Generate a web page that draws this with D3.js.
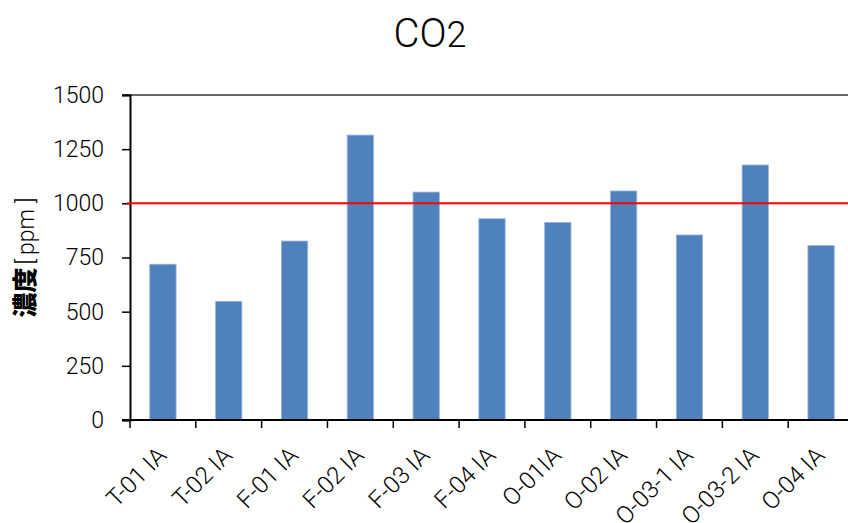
<!DOCTYPE html>
<html>
<head>
<meta charset="utf-8">
<script src="https://cdn.jsdelivr.net/npm/d3@7"></script>
<style>
  html, body { margin: 0; padding: 0; background: #fff; }
  svg { display: block; }
</style>
</head>
<body>
<svg id="chart" width="848" height="523"></svg>
<script>
const categories = ["T-01 IA", "T-02 IA", "F-01 IA", "F-02 IA", "F-03 IA", "F-04 IA", "O-01IA", "O-02 IA", "O-03-1 IA", "O-03-2 IA", "O-04 IA"];
const values = [719, 548, 826, 1315, 1052, 929, 912, 1057, 854, 1177, 805];
const yTicks = [0, 250, 500, 750, 1000, 1250, 1500];
const thresholdValue = [1000];

(function () {
const svg = d3.select("#chart");
const pL = 130, pR = 854, pT = 95, pB = 420;
const numFont = "Roboto, 'Noto Sans', sans-serif";

const x = d3.scaleBand().domain(categories).range([pL, pR]).paddingInner(0.6).paddingOuter(0.3);
const y = d3.scaleLinear().domain([0, 1500]).range([pB, pT]);

// title
const title = svg.append("text")
  .attr("x", 430).attr("y", 47)
  .attr("text-anchor", "middle")
  .attr("font-family", numFont)
  .attr("font-weight", 300)
  .attr("font-size", 40)
  .attr("fill", "#000");
title.append("tspan").text("CO");
title.append("tspan").attr("font-size", 36).text("2");

// top border line
svg.append("line")
  .attr("x1", pL - 8).attr("x2", 848)
  .attr("y1", y(1500)).attr("y2", y(1500))
  .attr("stroke", "#333").attr("stroke-width", 1.5);

// bars
svg.append("g").selectAll("rect")
  .data(values)
  .join("rect")
  .attr("x", (d, i) => x(categories[i]))
  .attr("width", x.bandwidth())
  .attr("y", d => y(d))
  .attr("height", d => y(0) - y(d))
  .attr("fill", "#4F81BD")
  .attr("stroke", "#9db7dc")
  .attr("stroke-width", 0.8);

// y axis
const yAxis = d3.axisLeft(y).tickValues(yTicks).tickSize(8).tickPadding(18).tickFormat(d3.format("d"));
const gy = svg.append("g").attr("transform", `translate(${pL},0)`).call(yAxis);
gy.select(".domain").attr("stroke", "#000").attr("stroke-width", 2);
gy.selectAll(".tick line").attr("stroke", "#000").attr("stroke-width", 1.5);
gy.selectAll(".tick text")
  .attr("font-family", numFont).attr("font-weight", 300)
  .attr("font-size", 23).attr("fill", "#000");

// x axis line
svg.append("line")
  .attr("x1", pL - 8).attr("x2", 848)
  .attr("y1", y(0)).attr("y2", y(0))
  .attr("stroke", "#000").attr("stroke-width", 2);

// x ticks at band edges
const edges = categories.map(c => x(c) - x.step() * x.paddingInner() / 2);
svg.append("g").selectAll("line")
  .data(edges)
  .join("line")
  .attr("x1", d => d).attr("x2", d => d)
  .attr("y1", y(0)).attr("y2", y(0) + 8)
  .attr("stroke", "#000").attr("stroke-width", 1.5);

// x labels
svg.append("g").selectAll("text")
  .data(categories)
  .join("text")
  .attr("transform", d => `translate(${x(d) + x.bandwidth() / 2 + 5},457) rotate(-45)`)
  .attr("text-anchor", "end")
  .attr("font-family", numFont).attr("font-weight", 300)
  .attr("font-size", 24).attr("fill", "#000")
  .text(d => d);

// threshold line
svg.append("g").selectAll("line")
  .data(thresholdValue)
  .join("line")
  .attr("x1", pL - 3).attr("x2", 848)
  .attr("y1", d => y(d)).attr("y2", d => y(d))
  .attr("stroke", "#FF0000").attr("stroke-width", 2);

// y axis label
const yl = svg.append("text")
  .attr("transform", `translate(34,${(pT + pB) / 2}) rotate(-90)`)
  .attr("text-anchor", "middle")
  .attr("font-size", 23)
  .attr("fill", "#000");
yl.append("tspan").attr("font-family", "'Noto Sans CJK JP', sans-serif").attr("font-weight", 900).attr("font-size", 25).text("濃度");
yl.append("tspan").attr("font-family", numFont).attr("font-weight", 300).attr("dx", 3).text("[");
yl.append("tspan").attr("font-family", numFont).attr("font-weight", 300).attr("dx", 4).text("ppm");
yl.append("tspan").attr("font-family", numFont).attr("font-weight", 300).attr("dx", 6).text("]");
})();
</script>
</body>
</html>
